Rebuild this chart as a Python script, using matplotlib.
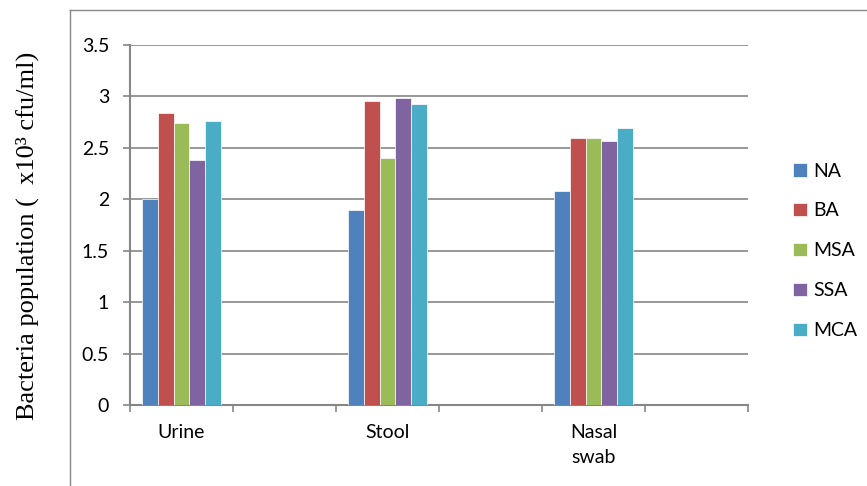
import numpy as np
import matplotlib.pyplot as plt
from matplotlib.lines import Line2D

# six category slots, only every other one carries data
slots = ["Urine", "", "Stool", "", "Nasal\nswab", ""]
data_slots = [0, 2, 4]

media = ["NA", "BA", "MSA", "SSA", "MCA"]
NA = [2.00, 1.90, 2.08]
BA = [2.84, 2.96, 2.60]
MSA = [2.74, 2.40, 2.60]
SSA = [2.38, 2.98, 2.57]
MCA = [2.76, 2.93, 2.69]
series = [NA, BA, MSA, SSA, MCA]
colors = ["#4F81BD", "#C0504D", "#9BBB59", "#8064A2", "#4BACC6"]

yticks = [0, 0.5, 1, 1.5, 2, 2.5, 3, 3.5]
ytick_labels = ["0", "0.5", "1", "1.5", "2", "2.5", "3", "3.5"]

grid_col = "#868686"
tick_font = "Lato"
fs = 14

fig = plt.figure(figsize=(8.67, 4.86), dpi=100)
ax = fig.add_axes([130 / 867, 81 / 486, 618 / 867, 360 / 486])

bar_w = 0.153
x = np.array(data_slots, dtype=float)
for i, (name, vals) in enumerate(zip(media, series)):
    offs = (i - 2) * bar_w
    ax.bar(x + offs, vals, width=bar_w, color=colors[i], edgecolor="white",
           linewidth=0.5, label=name, zorder=3)

ax.set_xlim(-0.5, len(slots) - 0.5)
ax.set_ylim(0, 3.5)

# gridlines
ax.set_yticks(yticks)
ax.set_yticklabels(ytick_labels, fontfamily=tick_font, fontsize=fs)
ax.yaxis.grid(True, color=grid_col, linewidth=1.2, zorder=0)

# category boundaries as major ticks, names on minor ticks
ax.set_xticks(np.arange(-0.5, len(slots), 1.0))
ax.set_xticklabels([])
ax.set_xticks(np.arange(len(slots)), minor=True)
ax.set_xticklabels(slots, minor=True, fontfamily=tick_font, fontsize=fs,
                   linespacing=1.55, va="top")
ax.tick_params(axis="x", which="major", length=5, width=1.2, color=grid_col, direction="out")
ax.tick_params(axis="x", which="minor", length=0, pad=14)
ax.tick_params(axis="y", length=5, width=1.2, color=grid_col, pad=10)

for s in ["top", "right"]:
    ax.spines[s].set_visible(False)
for s in ["left", "bottom"]:
    ax.spines[s].set_color(grid_col)
    ax.spines[s].set_linewidth(1.5)

ax.set_ylabel("Bacteria population (  x10³ cfu/ml)", fontfamily="Liberation Serif",
              fontsize=19)
ax.yaxis.set_label_coords(-0.148, 0.469)

leg = ax.legend(loc="center left", bbox_to_anchor=(1.0728, 0.428), frameon=False,
                prop={"family": tick_font, "size": fs}, handlelength=0.7,
                handleheight=0.7, handletextpad=0.35, labelspacing=1.18,
                borderpad=0, borderaxespad=0)

# outer chart frame
fig.add_artist(Line2D([70 / 867, 70 / 867], [0, 1 - 10 / 486], color=grid_col,
                      linewidth=1.0, transform=fig.transFigure))
fig.add_artist(Line2D([70 / 867, 1], [1 - 10 / 486, 1 - 10 / 486], color=grid_col,
                      linewidth=1.0, transform=fig.transFigure))

fig.savefig("out.png", dpi=100)
